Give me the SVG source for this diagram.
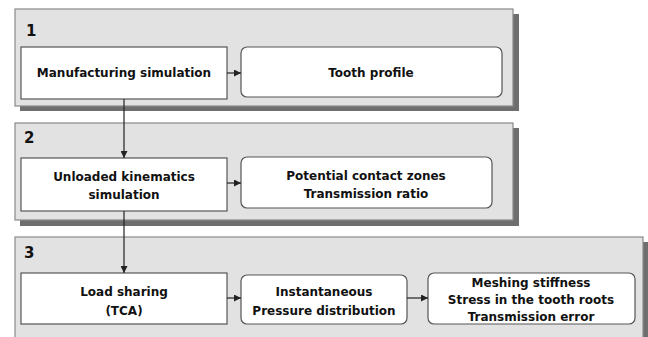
<svg xmlns="http://www.w3.org/2000/svg" width="648" height="337" viewBox="0 0 648 337">
<defs>
<style>
.shadow{fill:#6e6e6e}
.panel{fill:#e2e2e2;stroke:#8a8a8a;stroke-width:1.2}
.num{font-family:"DejaVu Sans",sans-serif;font-weight:bold;font-size:15px;fill:#111}
.box{fill:#fff;stroke:#555;stroke-width:1.2}
.t{font-family:"DejaVu Sans",sans-serif;font-size:12px;fill:#111;text-anchor:middle;font-weight:600}
.conn{stroke:#222;stroke-width:1.2;fill:none}
</style>
<marker id="ah" viewBox="0 0 10 10" refX="10" refY="5" markerWidth="7" markerHeight="7" orient="auto" markerUnits="userSpaceOnUse">
<path d="M0,0 L10,5 L0,10 z" fill="#222"/>
</marker>
</defs>
<rect width="648" height="337" fill="#fff"/>
<g id="panel1">
<rect class="shadow" x="20" y="14" width="499" height="97"/>
<rect class="panel" x="15" y="9" width="498" height="97"/>
<text class="num" x="26" y="36">1</text>
</g>
<g id="panel2">
<rect class="shadow" x="20" y="128" width="499" height="98"/>
<rect class="panel" x="15" y="123" width="498" height="97"/>
<text class="num" x="24" y="143">2</text>
</g>
<g id="panel3">
<rect class="shadow" x="20" y="242" width="628" height="100"/>
<rect class="panel" x="15" y="237" width="628" height="105"/>
<text class="num" x="24" y="258">3</text>
</g>
<g id="n-manufacturing">
<rect class="box" x="21" y="47" width="206" height="52"/>
<text class="t" x="124" y="77">Manufacturing simulation</text>
</g>
<g id="n-tooth">
<rect class="box" x="241" y="47" width="261" height="50" rx="6"/>
<text class="t" x="371" y="77">Tooth profile</text>
</g>
<g id="n-unloaded">
<rect class="box" x="21" y="158" width="206" height="53"/>
<text class="t" x="124" y="181">Unloaded kinematics</text>
<text class="t" x="124" y="199">simulation</text>
</g>
<g id="n-potential">
<rect class="box" x="241" y="157" width="251" height="51" rx="6"/>
<text class="t" x="366" y="180">Potential contact zones</text>
<text class="t" x="366" y="198">Transmission ratio</text>
</g>
<g id="n-load">
<rect class="box" x="21" y="273" width="206" height="51"/>
<text class="t" x="124" y="296">Load sharing</text>
<text class="t" x="124" y="315">(TCA)</text>
</g>
<g id="n-pressure">
<rect class="box" x="241" y="275" width="166" height="49" rx="6"/>
<text class="t" x="324" y="296">Instantaneous</text>
<text class="t" x="324" y="315">Pressure distribution</text>
</g>
<g id="n-meshing">
<rect class="box" x="428" y="273" width="207" height="51" rx="6"/>
<text class="t" x="531" y="287">Meshing stiffness</text>
<text class="t" x="531" y="304">Stress in the tooth roots</text>
<text class="t" x="531" y="321">Transmission error</text>
</g>
<g id="connectors">
<line class="conn" x1="227" y1="73" x2="241" y2="73" marker-end="url(#ah)"/>
<line class="conn" x1="124" y1="99" x2="124" y2="158" marker-end="url(#ah)"/>
<line class="conn" x1="227" y1="183" x2="241" y2="183" marker-end="url(#ah)"/>
<line class="conn" x1="124" y1="211" x2="124" y2="273" marker-end="url(#ah)"/>
<line class="conn" x1="227" y1="298" x2="241" y2="298" marker-end="url(#ah)"/>
<line class="conn" x1="407" y1="298" x2="428" y2="298" marker-end="url(#ah)"/>
</g>
</svg>
